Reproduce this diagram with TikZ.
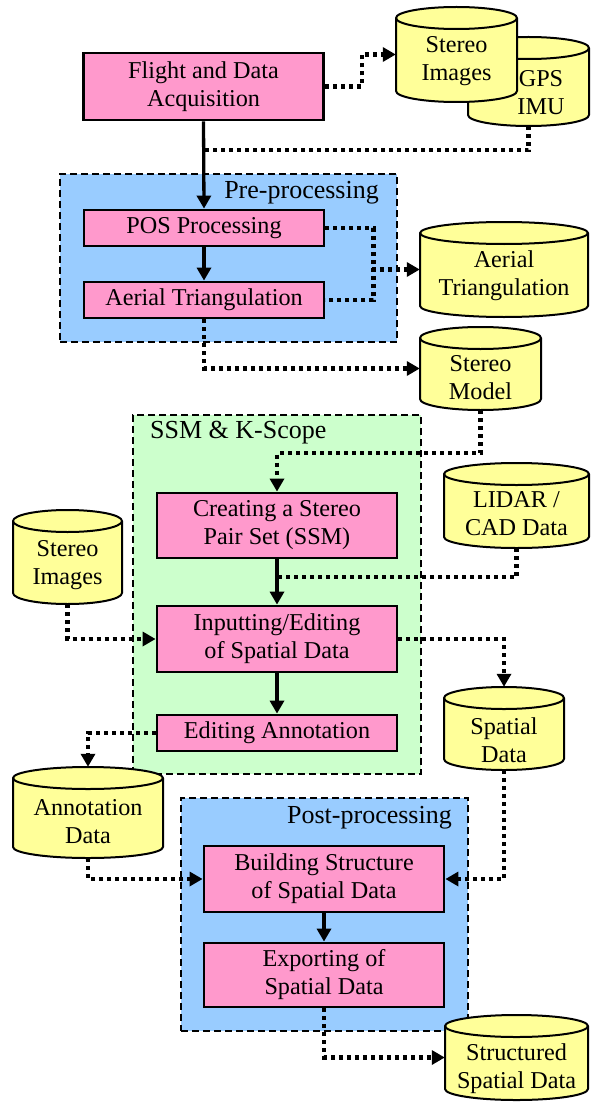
\documentclass[tikz,border=0pt]{standalone}
\usepackage{fontspec}
\setmainfont{Liberation Serif}
\usetikzlibrary{arrows.meta,calc}
\definecolor{boxpink}{HTML}{FF99CC}
\definecolor{stageblue}{HTML}{99CCFF}
\definecolor{stagegreen}{HTML}{CCFFCC}
\definecolor{dbyellow}{HTML}{FFFF99}
\tikzset{
  procbox/.style={draw, line width=2.8pt, fill=boxpink, minimum width=240, minimum height=36, align=center, inner sep=0pt},
  dbshape/.style={fill=dbyellow, draw=black, line width=2pt, line join=round},
  dbline/.style={draw=black, line width=2pt},
  dbtext/.style={inner sep=0pt, align=center},
  stage/.style={draw, line width=1.5pt, dash pattern=on 7pt off 4pt, inner sep=0pt},
  stagelabel/.style={inner sep=0pt, font=\fontsize{26}{30}\selectfont},
  flow/.style={line width=3.3pt, -{Triangle[length=13pt,width=14pt]}},
  dataflow/.style={line width=4.5pt, dash pattern=on 4pt off 4pt, -{Triangle[length=13pt,width=14pt]}},
  datajoin/.style={line width=4.5pt, dash pattern=on 4pt off 4pt},
}
% data store cylinder: [text offset]{name}{x}{y}{width}{height}{text}
\newcommand{\datastore}[7][0,8]{%
  \path[dbshape] ({#3-#5/2},{#4-#6/2+11}) -- ({#3-#5/2},{#4+#6/2-11})
    arc[start angle=180, end angle=0, x radius=#5/2, y radius=11]
    -- ({#3+#5/2},{#4-#6/2+11})
    arc[start angle=0, end angle=-180, x radius=#5/2, y radius=11] -- cycle;
  \draw[dbline] ({#3-#5/2},{#4-#6/2+11}) arc[start angle=180, end angle=0, x radius=#5/2, y radius=11];
  \node[inner sep=0pt, minimum width=#5, minimum height=#6] (#2) at (#3,#4) {};
  \node[dbtext] (#2text) at ($(#2.center)+(#1)$) {#7};
}
\begin{document}
\begin{tikzpicture}[x=1pt, y=-1pt, font=\fontsize{24.2}{28}\selectfont]
  \useasboundingbox (0,0) rectangle (590,1102);
  % stages
  \node[stage, fill=stageblue, minimum width=337, minimum height=168] (pre) at (228.5,258) {};
  \node[stage, fill=stagegreen, minimum width=288, minimum height=359] (ssm) at (277,594.5) {};
  \node[stage, fill=stageblue, minimum width=287, minimum height=233] (post) at (324.5,914.5) {};
  \node[stagelabel, anchor=east] (prelabel) at (379,193) {Pre-processing};
  \node[stagelabel, anchor=west] (ssmlabel) at (150,433) {SSM \& K-Scope};
  \node[stagelabel, anchor=east] (postlabel) at (452,818) {Post-processing};

  % processes
  \node[procbox, minimum height=67] (flight) at (203.5,86.5) {Flight and Data\\Acquisition};
  \node[procbox] (pos) at (204,228) {POS Processing};
  \node[procbox] (atbox) at (204,300) {Aerial Triangulation};
  \node[procbox, minimum height=65] (create) at (277,525.5) {Creating a Stereo\\Pair Set (SSM)};
  \node[procbox, minimum height=66] (input) at (277,639) {Inputting/Editing\\of Spatial Data};
  \node[procbox] (editann) at (277,733) {Editing Annotation};
  \node[procbox, minimum height=66] (build) at (324,879) {Building Structure\\of Spatial Data};
  \node[procbox, minimum height=64] (export) at (324,975) {Exporting of\\Spatial Data};

  % data stores
  \datastore[12.5,11.5]{gps}{528.5}{81.5}{121}{89}{GPS\\IMU}
  \datastore[0,6.5]{stereoA}{456.5}{54.5}{121}{95}{Stereo\\Images}
  \datastore[0,6.5]{aerialdb}{504}{269.5}{168}{95}{Aerial\\Triangulation}
  \datastore[0,9.5]{model}{480.5}{368.5}{121}{83}{Stereo\\Model}
  \datastore[0,8.5]{lidar}{516.5}{505.5}{145}{85}{LIDAR /\\CAD Data}
  \datastore{stereoB}{67.5}{557}{109}{94}{Stereo\\Images}
  \datastore[0,11.5]{spatial}{504}{728.5}{120}{83}{Spatial\\Data}
  \datastore[0,9]{annot}{88}{812.5}{150}{91}{Annotation\\Data}
  \datastore[0,11.5]{struct}{516.5}{1057.5}{143}{85}{Structured\\Spatial Data}

  % connectors
  \draw[flow] (flight.south) -- (pos.north);
  \draw[dataflow] (flight.east) -- ++(37,0) |- (stereoA.west);
  \draw[datajoin] (gps.south) |- ++(-324,24);
  \draw[flow] (pos) -- (atbox);
  \draw[datajoin] (pos.east) -- ++(48,0) |- (atbox.east);
  \draw[dataflow] ($(aerialdb.west)-(48,0)$) -- (aerialdb.west);
  \draw[dataflow] (atbox.south) |- (model.west);
  \draw[dataflow] (model.south) -- ++(0,43) -| (create.north);
  \draw[flow] (create) -- (input);
  \draw[datajoin] (lidar.south) |- ++(-240,29);
  \draw[dataflow] (stereoB.south) |- (input.west);
  \draw[dataflow] (input.east) -| (spatial.north);
  \draw[flow] (input) -- (editann);
  \draw[dataflow] (editann.west) -| (annot.north);
  \draw[dataflow] (annot.south) |- (build.west);
  \draw[dataflow] (spatial.south) |- (build.east);
  \draw[flow] (build) -- (export);
  \draw[dataflow] (export.south) |- (struct.west);
\end{tikzpicture}
\end{document}
